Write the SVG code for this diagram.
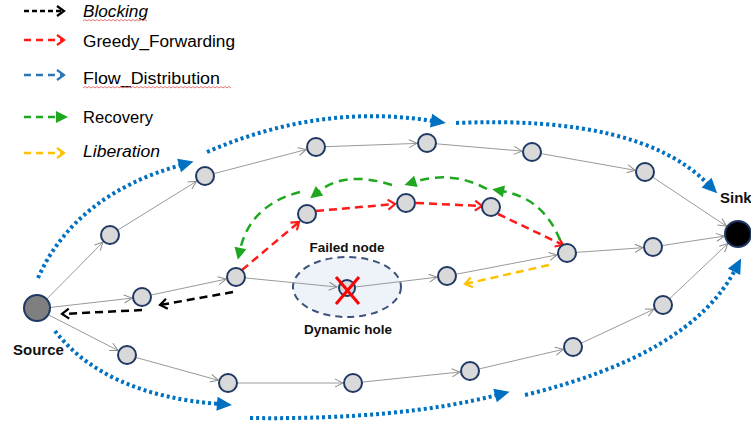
<svg xmlns="http://www.w3.org/2000/svg" width="751" height="427" viewBox="0 0 751 427">
<defs>
<style>
.edge{stroke:#9a9a9a;stroke-width:1;fill:none;marker-end:url(#open)}
.node{fill:#d9d9d9;stroke:#1f3864;stroke-width:2}
.flow{stroke:#0070c0;stroke-width:4;stroke-dasharray:3 3;fill:none;marker-end:url(#blueTri)}
.greedy{stroke:#ff1a1a;stroke-width:2.5;stroke-dasharray:8 5;fill:none;marker-end:url(#redCh)}
.recov{stroke:#1fa81f;stroke-width:2.5;stroke-dasharray:9 6;fill:none;marker-end:url(#greenTri)}
.block{stroke:#000;stroke-width:2.5;stroke-dasharray:8 5;fill:none;marker-end:url(#blackCh)}
.lib{stroke:#ffc000;stroke-width:2.5;stroke-dasharray:8 5;fill:none;marker-end:url(#yellowCh)}
.leg{font-family:"Liberation Sans",Arial,sans-serif;font-size:16px;fill:#000}
.lbl{font-family:"Liberation Sans",Arial,sans-serif;font-size:13.5px;font-weight:bold;fill:#111}
.end{font-family:"Liberation Sans",Arial,sans-serif;font-size:15px;font-weight:bold;fill:#111}
.squig{stroke:#e05050;stroke-width:0.8;fill:none}
</style>
<marker id="open" markerUnits="userSpaceOnUse" markerWidth="10" markerHeight="10" refX="8" refY="4" orient="auto" overflow="visible">
<path d="M0,0 L8,4 L0,8" fill="none" stroke="#8c8c8c" stroke-width="1"/>
</marker>
<marker id="blueTri" markerUnits="userSpaceOnUse" markerWidth="16" markerHeight="14" refX="2" refY="7" orient="auto" overflow="visible">
<path d="M0,0 L15,7 L0,14 z" fill="#0070c0"/>
</marker>
<marker id="greenTri" markerUnits="userSpaceOnUse" markerWidth="13" markerHeight="13" refX="2" refY="6" orient="auto" overflow="visible">
<path d="M0,0 L12,6 L0,12 z" fill="#1fa81f"/>
</marker>
<marker id="redCh" markerUnits="userSpaceOnUse" markerWidth="10" markerHeight="12" refX="7" refY="5" orient="auto" overflow="visible">
<path d="M0,0 L7,5 L0,10" fill="none" stroke="#ff1a1a" stroke-width="2.2"/>
</marker>
<marker id="blackCh" markerUnits="userSpaceOnUse" markerWidth="10" markerHeight="12" refX="7" refY="5" orient="auto" overflow="visible">
<path d="M0,0 L7,5 L0,10" fill="none" stroke="#000" stroke-width="2.2"/>
</marker>
<marker id="yellowCh" markerUnits="userSpaceOnUse" markerWidth="10" markerHeight="12" refX="7" refY="5" orient="auto" overflow="visible">
<path d="M0,0 L7,5 L0,10" fill="none" stroke="#ffc000" stroke-width="2.2"/>
</marker>
<marker id="legBlue" markerUnits="userSpaceOnUse" markerWidth="10" markerHeight="12" refX="7" refY="5" orient="auto" overflow="visible">
<path d="M0,0 L7,5 L0,10" fill="none" stroke="#2e75b6" stroke-width="2.2"/>
</marker>
</defs>

<g id="legend">
<line x1="24" y1="11" x2="64" y2="11" stroke="#000" stroke-width="2.5" stroke-dasharray="5 3" marker-end="url(#blackCh)"/>
<text class="leg" x="83" y="17" font-style="italic" textLength="65" lengthAdjust="spacingAndGlyphs">Blocking</text>
<path class="squig" d="M83,21 l2,-1.5 l2,1.5 l2,-1.5 l2,1.5 l2,-1.5 l2,1.5 l2,-1.5 l2,1.5 l2,-1.5 l2,1.5 l2,-1.5 l2,1.5 l2,-1.5 l2,1.5 l2,-1.5 l2,1.5 l2,-1.5 l2,1.5 l2,-1.5 l2,1.5 l2,-1.5 l2,1.5 l2,-1.5 l2,1.5 l2,-1.5 l2,1.5 l2,-1.5 l2,1.5 l2,-1.5 l2,1.5 l2,-1.5 l2,1.5"/>
<line x1="24" y1="40" x2="64" y2="40" stroke="#ff1a1a" stroke-width="2.5" stroke-dasharray="7 5" marker-end="url(#redCh)"/>
<text class="leg" x="83" y="47" textLength="152" lengthAdjust="spacingAndGlyphs">Greedy_Forwarding</text>
<line x1="24" y1="75" x2="64" y2="75" stroke="#2e75b6" stroke-width="2.5" stroke-dasharray="7 5" marker-end="url(#legBlue)"/>
<text class="leg" x="83" y="84" textLength="137" lengthAdjust="spacingAndGlyphs">Flow_Distribution</text>
<path class="squig" d="M83,88 l2,-1.5 l2,1.5 l2,-1.5 l2,1.5 l2,-1.5 l2,1.5 l2,-1.5 l2,1.5 l2,-1.5 l2,1.5 l2,-1.5 l2,1.5 l2,-1.5 l2,1.5 l2,-1.5 l2,1.5 l2,-1.5 l2,1.5 l2,-1.5 l2,1.5 l2,-1.5 l2,1.5 l2,-1.5 l2,1.5 l2,-1.5 l2,1.5 l2,-1.5 l2,1.5 l2,-1.5 l2,1.5 l2,-1.5 l2,1.5 l2,-1.5 l2,1.5 l2,-1.5 l2,1.5 l2,-1.5 l2,1.5 l2,-1.5 l2,1.5 l2,-1.5 l2,1.5 l2,-1.5 l2,1.5 l2,-1.5 l2,1.5 l2,-1.5 l2,1.5 l2,-1.5 l2,1.5 l2,-1.5 l2,1.5 l2,-1.5 l2,1.5 l2,-1.5 l2,1.5 l2,-1.5 l2,1.5 l2,-1.5 l2,1.5 l2,-1.5 l2,1.5 l2,-1.5 l2,1.5 l2,-1.5 l2,1.5 l2,-1.5 l2,1.5 l2,-1.5 l2,1.5 l2,-1.5 l2,1.5 l2,-1.5 l2,1.5"/>
<line x1="24" y1="117" x2="58" y2="117" stroke="#1fa81f" stroke-width="2.5" stroke-dasharray="7 5" marker-end="url(#greenTri)"/>
<text class="leg" x="83" y="123" textLength="70" lengthAdjust="spacingAndGlyphs">Recovery</text>
<line x1="24" y1="153" x2="64" y2="153" stroke="#ffc000" stroke-width="2.5" stroke-dasharray="7 5" marker-end="url(#yellowCh)"/>
<text class="leg" x="83" y="157" font-style="italic" textLength="77" lengthAdjust="spacingAndGlyphs">Liberation</text>
</g>

<g id="hole">
<ellipse cx="347" cy="287" rx="54" ry="30" fill="#eef2f9" stroke="#3b5378" stroke-width="2" stroke-dasharray="7 5"/>
</g>

<g id="connectors">
<line class="edge" x1="46.8" y1="299" x2="103" y2="242.1"/>
<line class="edge" x1="117.6" y1="230.2" x2="196.5" y2="181.3"/>
<line class="edge" x1="213.7" y1="173.7" x2="306.3" y2="149.5"/>
<line class="edge" x1="325" y1="146.7" x2="417" y2="143.4"/>
<line class="edge" x1="436" y1="143.8" x2="522" y2="151.1"/>
<line class="edge" x1="540.9" y1="153.6" x2="635.2" y2="170.3"/>
<line class="edge" x1="652.5" y1="177" x2="726.4" y2="226.2"/>

<line class="edge" x1="49.9" y1="307.5" x2="132.1" y2="298.1"/>
<line class="edge" x1="150.8" y1="295.1" x2="226.2" y2="279.1"/>
<line class="edge" x1="245" y1="277.9" x2="337" y2="287"/>
<line class="edge" x1="356" y1="286.9" x2="437.1" y2="277.2"/>
<line class="edge" x1="455.8" y1="274.3" x2="557.2" y2="254.9"/>
<line class="edge" x1="576" y1="252.4" x2="643" y2="247.7"/>
<line class="edge" x1="661.9" y1="245.6" x2="724.2" y2="236.1"/>

<line class="edge" x1="48.6" y1="314.9" x2="118.1" y2="350.5"/>
<line class="edge" x1="135.7" y1="357.4" x2="218.4" y2="380.3"/>
<line class="edge" x1="237" y1="383" x2="343" y2="383"/>
<line class="edge" x1="362" y1="382.1" x2="460" y2="372"/>
<line class="edge" x1="478.8" y1="369" x2="563.3" y2="349.3"/>
<line class="edge" x1="581.2" y1="343.2" x2="653.9" y2="309.2"/>
<line class="edge" x1="669.5" y1="298.8" x2="727.8" y2="243.6"/>

<path class="flow" d="M38,278 Q75,195 181,165"/>
<path class="flow" d="M207,152 Q320,103 433,121"/>
<path class="flow" d="M456,123 Q640,115 708,184"/>
<path class="flow" d="M55,331 Q105,395 219,404"/>
<path class="flow" d="M250,418 Q400,420 497,395"/>
<path class="flow" d="M525,395 Q690,355 735,270"/>

<path class="greedy" d="M242,270 L299,222"/>
<path class="greedy" d="M316,211 L395,204"/>
<path class="greedy" d="M416,203 L482,206"/>
<path class="greedy" d="M498,214 L563,245"/>

<path class="recov" d="M560,240 Q543,198 502,191"/>
<path class="recov" d="M487,189 Q452,170 414,182"/>
<path class="recov" d="M392,185 Q345,170 318,192"/>
<path class="recov" d="M300,192 Q250,205 240,250"/>

<path class="block" d="M233,292 L160,305"/>
<path class="block" d="M142,310 L62,314"/>
<path class="lib" d="M549,265 L465,284"/>
</g>

<g id="source"><circle cx="37" cy="308" r="13" fill="#7f7f7f" stroke="#1f3864" stroke-width="2"/><text class="end" x="13" y="355">Source</text></g>
<g id="sink"><circle cx="738" cy="234" r="13" fill="#000" stroke="#1f3864" stroke-width="2"/><text class="end" x="720" y="203">Sink</text></g>

<g id="n-a1"><circle class="node" cx="110" cy="235" r="9"/></g>
<g id="n-a2"><circle class="node" cx="205" cy="176" r="9"/></g>
<g id="n-a3"><circle class="node" cx="316" cy="147" r="9"/></g>
<g id="n-a4"><circle class="node" cx="427" cy="143" r="9"/></g>
<g id="n-a5"><circle class="node" cx="532" cy="152" r="9"/></g>
<g id="n-a6"><circle class="node" cx="645" cy="172" r="9"/></g>

<g id="n-b1"><circle class="node" cx="142" cy="297" r="9"/></g>
<g id="n-b2"><circle class="node" cx="236" cy="277" r="9"/></g>
<g id="n-failed"><circle class="node" cx="347" cy="288" r="8"/>
<line x1="336" y1="277" x2="359" y2="304" stroke="#ff0000" stroke-width="3"/>
<line x1="359" y1="277" x2="336" y2="304" stroke="#ff0000" stroke-width="3"/>
<text class="lbl" x="347" y="252" text-anchor="middle">Failed node</text>
<text class="lbl" x="348" y="334" text-anchor="middle">Dynamic hole</text></g>
<g id="n-b3"><circle class="node" cx="447" cy="276" r="9"/></g>
<g id="n-b4"><circle class="node" cx="567" cy="253" r="9"/></g>
<g id="n-b5"><circle class="node" cx="653" cy="247" r="9"/></g>

<g id="n-g1"><circle class="node" cx="307" cy="214" r="9"/></g>
<g id="n-g2"><circle class="node" cx="406" cy="203" r="9"/></g>
<g id="n-g3"><circle class="node" cx="491" cy="207" r="9"/></g>

<g id="n-c1"><circle class="node" cx="127" cy="355" r="9"/></g>
<g id="n-c2"><circle class="node" cx="228" cy="383" r="9"/></g>
<g id="n-c3"><circle class="node" cx="353" cy="383" r="9"/></g>
<g id="n-c4"><circle class="node" cx="470" cy="371" r="9"/></g>
<g id="n-c5"><circle class="node" cx="573" cy="347" r="9"/></g>
<g id="n-c6"><circle class="node" cx="663" cy="305" r="9"/></g>
</svg>
